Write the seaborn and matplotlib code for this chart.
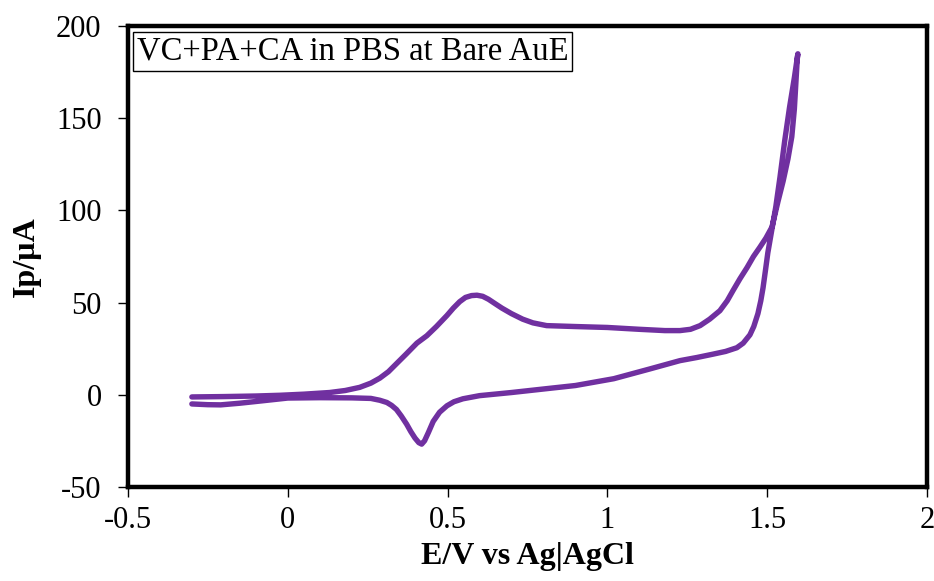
import matplotlib
matplotlib.use("Agg")
import matplotlib.pyplot as plt
import seaborn as sns
import pandas as pd

# Forward (anodic) scan
fwd_E = [-0.3, -0.2, -0.1, -0.025, 0.05, 0.131, 0.18, 0.225, 0.26, 0.288, 0.315, 0.341, 0.37,
         0.404, 0.435, 0.465, 0.498, 0.518, 0.538, 0.556, 0.575, 0.592, 0.61, 0.628, 0.648,
         0.67, 0.7, 0.735, 0.767, 0.81, 0.9, 1.0, 1.1, 1.18, 1.227, 1.26, 1.29, 1.32, 1.352,
         1.375, 1.393, 1.415, 1.437, 1.457, 1.477, 1.496, 1.515, 1.534, 1.55, 1.565, 1.577,
         1.585, 1.59, 1.594, 1.596]
fwd_I = [-1.2, -1.0, -0.7, -0.3, 0.3, 1.2, 2.3, 4.0, 6.3, 9.0, 12.5, 17.0, 22.0,
         28.0, 32.0, 37.0, 43.0, 47.0, 50.5, 52.8, 53.8, 54.0, 53.4, 51.8, 49.5,
         47.0, 44.0, 41.0, 39.0, 37.5, 37.0, 36.5, 35.5, 34.8, 34.8, 35.5, 37.5, 41.0, 45.6,
         51.0, 56.5, 63.0, 69.0, 75.0, 80.0, 85.0, 91.0, 105.0, 116.0, 128.0, 140.0,
         155.0, 170.0, 182.0, 185.0]
# Reverse (cathodic) scan
rev_E = [1.596, 1.585, 1.57, 1.555, 1.54, 1.527, 1.515, 1.502, 1.495, 1.487, 1.48, 1.471, 1.458,
         1.446, 1.425, 1.405, 1.37, 1.33, 1.28, 1.227, 1.133, 1.02, 0.9, 0.81, 0.7, 0.6, 0.548,
         0.52, 0.498, 0.475, 0.455, 0.44, 0.428, 0.419, 0.41, 0.398, 0.385, 0.372, 0.355, 0.34,
         0.325, 0.31, 0.288, 0.26, 0.2, 0.1, 0.0, -0.08, -0.15, -0.21, -0.25, -0.3]
rev_I = [185.0, 172.0, 156.0, 138.0, 118.0, 102.0, 90.0, 77.0, 68.0, 58.0, 51.0, 44.0, 37.0,
         32.5, 28.0, 25.5, 23.5, 22.0, 20.2, 18.5, 14.0, 8.7, 5.0, 3.3, 1.2, -0.5, -2.2,
         -3.8, -6.0, -9.5, -14.5, -20.5, -25.0, -26.8, -26.0, -23.5, -20.0, -16.0, -11.5, -8.0,
         -5.8, -4.2, -3.0, -2.0, -1.7, -1.6, -1.8, -3.3, -4.6, -5.5, -5.4, -5.0]

x_ticks = [-0.5, 0, 0.5, 1, 1.5, 2]
x_tick_labels = ["-0.5", "0", "0.5", "1", "1.5", "2"]
y_ticks = [-50, 0, 50, 100, 150, 200]
y_tick_labels = ["-50", "0", "50", "100", "150", "200"]

df = pd.DataFrame({
    "E": fwd_E + rev_E,
    "I": fwd_I + rev_I,
})

sns.set_theme(style="white")
plt.rcParams['font.family'] = ['Liberation Serif', 'DejaVu Serif']

fig = plt.figure(figsize=(9.34, 5.81), dpi=100)
ax = fig.add_axes([0.137, 0.162, 0.8555, 0.793])

sns.lineplot(data=df, x="E", y="I", sort=False, estimator=None, ax=ax,
             color="#7030A0", linewidth=3.9, solid_capstyle="round", solid_joinstyle="round")

ax.set_xlim(-0.5, 2)
ax.set_ylim(-50, 200)
ax.set_xticks(x_ticks)
ax.set_xticklabels(x_tick_labels)
ax.set_yticks(y_ticks)
ax.set_yticklabels(y_tick_labels)
ax.tick_params(axis="both", which="both", direction="out", length=7, width=1,
               color="black", labelsize=22, labelcolor="black", bottom=True, left=True)
ax.tick_params(axis="x", pad=7)
ax.tick_params(axis="y", pad=12)
for s in ax.spines.values():
    s.set_visible(True)
    s.set_color("black")
    s.set_linewidth(3.2)

ax.set_xlabel("E/V vs Ag|AgCl", fontsize=23, fontweight="bold", color="black", labelpad=5)
ax.set_ylabel("Ip/µA", fontsize=23, fontweight="bold", color="black", labelpad=11)
ax.grid(False)

ax.text(0.011, 0.978, "VC+PA+CA in PBS at Bare AuE", transform=ax.transAxes,
        fontsize=23.5, color="black", ha="left", va="top",
        bbox=dict(boxstyle="square,pad=0.12", facecolor="white", edgecolor="black", linewidth=1))

fig.savefig("out.png", dpi=100, facecolor="white")
